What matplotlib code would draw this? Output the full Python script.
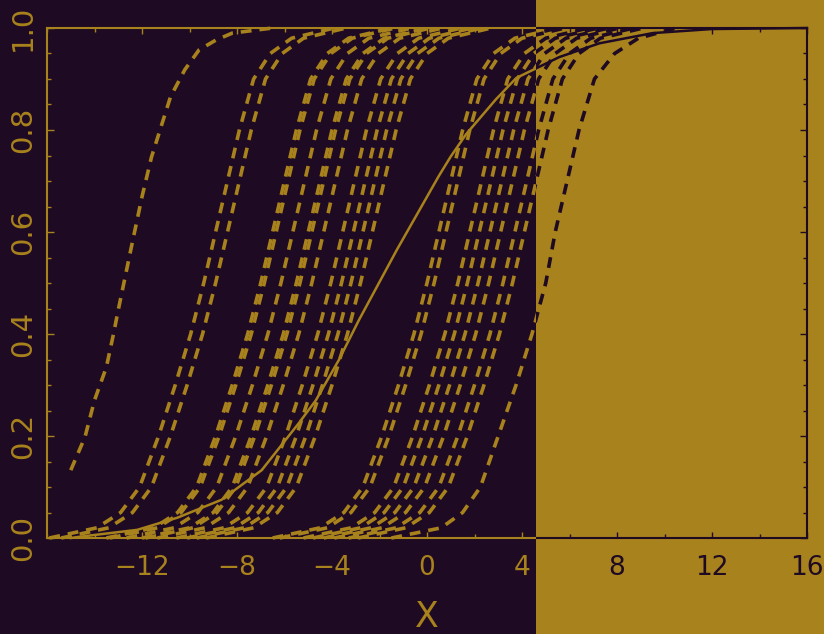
import matplotlib
matplotlib.use("Agg")
import matplotlib.pyplot as plt
from matplotlib.patches import Rectangle
from matplotlib.transforms import Bbox, TransformedBbox

# colours of the two-tone scan
DARK = '#1f0a23'
GOLD = '#a8821c'
SPLIT = 536 / 824  # where the background flips, in figure fraction

# y levels shared by the dashed curves
levels = [0.0, 0.02, 0.05, 0.1, 0.2, 0.3, 0.4, 0.5, 0.6, 0.7, 0.8, 0.9, 0.95, 0.98, 1.0]

# x of each dashed curve at those levels
dashed_x = [
    [-15.9, -13.9, -12.9, -12.1, -11.3, -10.6, -9.95, -9.4, -8.9, -8.4, -7.9, -7.3, -6.6, -5.7, -3.9],
    [-15.4, -13.4, -12.4, -11.6, -10.8, -10.1, -9.45, -8.9, -8.4, -7.9, -7.4, -6.8, -6.1, -5.2, -3.4],
    [-13.5, -11.5, -10.5, -9.7, -8.9, -8.2, -7.55, -7.0, -6.5, -6.0, -5.5, -4.9, -4.2, -3.3, -1.5],
    [-13.35, -11.35, -10.35, -9.55, -8.75, -8.05, -7.4, -6.85, -6.35, -5.85, -5.35, -4.75, -4.05, -3.15, -1.35],
    [-12.65, -10.65, -9.65, -8.85, -8.05, -7.35, -6.7, -6.15, -5.65, -5.15, -4.65, -4.05, -3.35, -2.45, -0.65],
    [-12.0, -10.0, -9.0, -8.2, -7.4, -6.7, -6.05, -5.5, -5.0, -4.5, -4.0, -3.4, -2.7, -1.8, 0.0],
    [-11.85, -9.85, -8.85, -8.05, -7.25, -6.55, -5.9, -5.35, -4.85, -4.35, -3.85, -3.25, -2.55, -1.65, 0.15],
    [-11.35, -9.35, -8.35, -7.55, -6.75, -6.05, -5.4, -4.85, -4.35, -3.85, -3.35, -2.75, -2.05, -1.15, 0.65],
    [-10.55, -8.55, -7.55, -6.75, -5.95, -5.25, -4.6, -4.05, -3.55, -3.05, -2.55, -1.95, -1.25, -0.35, 1.45],
    [-10.1, -8.1, -7.1, -6.3, -5.5, -4.8, -4.15, -3.6, -3.1, -2.6, -2.1, -1.5, -0.8, 0.1, 1.9],
    [-9.7, -7.7, -6.7, -5.9, -5.1, -4.4, -3.75, -3.2, -2.7, -2.2, -1.7, -1.1, -0.4, 0.5, 2.3],
    [-9.3, -7.3, -6.3, -5.5, -4.7, -4.0, -3.35, -2.8, -2.3, -1.8, -1.3, -0.7, 0.0, 0.9, 2.7],
    [-6.5, -4.5, -3.5, -2.7, -1.9, -1.2, -0.55, 0.0, 0.5, 1.0, 1.5, 2.1, 2.8, 3.7, 5.5],
    [-6.2, -4.2, -3.2, -2.4, -1.6, -0.9, -0.25, 0.3, 0.8, 1.3, 1.8, 2.4, 3.1, 4.0, 5.8],
    [-5.2, -3.2, -2.2, -1.4, -0.6, 0.1, 0.75, 1.3, 1.8, 2.3, 2.8, 3.4, 4.1, 5.0, 6.8],
    [-4.8, -2.8, -1.8, -1.0, -0.2, 0.5, 1.15, 1.7, 2.2, 2.7, 3.2, 3.8, 4.5, 5.4, 7.2],
    [-4.35, -2.35, -1.35, -0.55, 0.25, 0.95, 1.6, 2.15, 2.65, 3.15, 3.65, 4.25, 4.95, 5.85, 7.65],
    [-3.9, -1.9, -0.9, -0.1, 0.7, 1.4, 2.05, 2.6, 3.1, 3.6, 4.1, 4.7, 5.4, 6.3, 8.1],
    [-3.3, -1.3, -0.3, 0.5, 1.3, 2.0, 2.65, 3.2, 3.7, 4.2, 4.7, 5.3, 6.0, 6.9, 8.7],
    [-2.9, -0.9, 0.1, 0.9, 1.7, 2.4, 3.05, 3.6, 4.1, 4.6, 5.1, 5.7, 6.4, 7.3, 9.1],
    [-1.5, 0.6, 1.5, 2.25, 3.0, 3.75, 4.42, 5.0, 5.4, 5.9, 6.4, 7.05, 7.9, 8.9, 10.5],
]

# the leftmost dashed curve starts part way up
left_x = [-15.0, -14.4, -14.0, -13.5, -13.2, -13.0, -12.45, -12.0, -11.6, -11.2, -10.8, -10.2, -9.6, -8.9, -8.2, -6.5]
left_y = [0.133, 0.198, 0.27, 0.335, 0.40, 0.447, 0.57, 0.669, 0.747, 0.806, 0.865, 0.918, 0.957, 0.976, 0.99, 1.0]

# solid curve
solid_x = [-15.0, -14.7, -12.2, -10.5, -8.65, -6.96, -5.4, -4.68, -3.7, -2.87, -1.27, 0.5, 1.0, 1.65, 2.9, 3.76, 5.57, 7.26, 9.5, 12.0, 16.0]
solid_y = [0.0, 0.002, 0.016, 0.04, 0.075, 0.133, 0.225, 0.27, 0.35, 0.427, 0.565, 0.71, 0.748, 0.792, 0.86, 0.902, 0.943, 0.97, 0.99, 0.998, 1.0]

xticks = [-12, -8, -4, 0, 4, 8, 12, 16]
xtick_labels = ['\u221212', '\u22128', '\u22124', '0', '4', '8', '12', '16']
yticks = [0.0, 0.2, 0.4, 0.6, 0.8, 1.0]
ytick_labels = ['0.0', '0.2', '0.4', '0.6', '0.8', '1.0']

RECT = [47 / 824, 96 / 634, 760 / 824, 510 / 634]


def draw(ax, fg):
    ax.set_facecolor('none')
    for xs in dashed_x:
        ax.plot(xs, levels, color=fg, lw=2.6, ls=(0, (3.0, 2.2)))
    ax.plot(left_x, left_y, color=fg, lw=2.6, ls=(0, (3.0, 2.2)))
    ax.plot(solid_x, solid_y, color=fg, lw=1.8)
    ax.set_xlim(-16, 16)
    ax.set_ylim(0, 1)
    ax.set_xticks(xticks)
    ax.set_xticklabels(xtick_labels, fontsize=19)
    ax.set_xticks(range(-16, 17, 2), minor=True)
    ax.set_yticks(yticks)
    ax.set_yticklabels(ytick_labels, fontsize=21, rotation=90, va='center')
    ax.set_yticks([i * 0.05 for i in range(21)], minor=True)
    ax.tick_params(which='both', direction='in', top=True, right=True,
                   color=fg, labelcolor=fg, width=1)
    ax.tick_params(axis='x', which='major', length=4, pad=12)
    ax.tick_params(axis='y', which='major', length=5, pad=7)
    ax.tick_params(which='minor', length=3)
    for sp in ax.spines.values():
        sp.set_color(fg)
        sp.set_linewidth(1.5)
    ax.set_xlabel('X', fontsize=25, color=fg, labelpad=14)


fig = plt.figure(figsize=(8.24, 6.34), dpi=100, facecolor=DARK)
fig.add_artist(Rectangle((SPLIT, 0), 1 - SPLIT, 1, transform=fig.transFigure,
                         facecolor=GOLD, edgecolor='none', zorder=-5))

ax_left = fig.add_axes(RECT)
ax_right = fig.add_axes(RECT)
draw(ax_left, GOLD)
draw(ax_right, DARK)

fig.canvas.draw()
boxes = {
    ax_left: TransformedBbox(Bbox.from_extents(0, 0, SPLIT, 1), fig.transFigure),
    ax_right: TransformedBbox(Bbox.from_extents(SPLIT, 0, 1, 1), fig.transFigure),
}
for ax, box in boxes.items():
    for art in ax.findobj():
        if art is ax or art is ax.patch:
            continue
        art.set_clip_box(box)
        art.set_clip_on(True)

fig.savefig('out.png', dpi=100, facecolor=DARK)
